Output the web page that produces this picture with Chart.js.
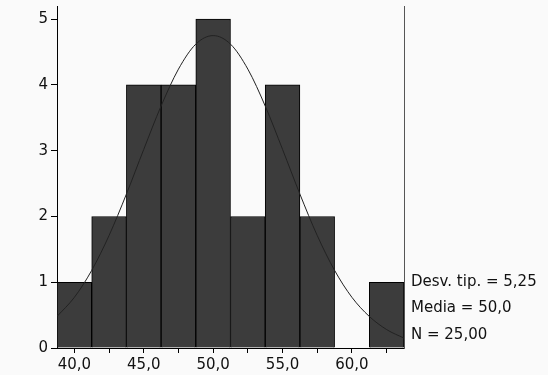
<!DOCTYPE html>
<html>
<head>
<meta charset="utf-8">
<script src="https://cdn.jsdelivr.net/npm/chart.js@4.4.1/dist/chart.umd.min.js"></script>
<style>
  html, body { margin: 0; padding: 0; background: #fafafa; }
  #wrap { width: 548px; height: 375px; }
</style>
</head>
<body>
<div id="wrap"><canvas id="histChart"></canvas></div>
<script>
// Histogram bins (centres) and counts
const binCenters = [40, 42.5, 45, 47.5, 50, 52.5, 55, 57.5, 60, 62.5];
const counts = [1, 2, 4, 4, 5, 2, 4, 2, 0, 1];

// Normal curve
const curveX = [38.75, 40, 41.25, 42.5, 43.75, 45, 46.25, 47.5, 48.75, 50, 51.25,
                52.5, 53.75, 55, 56.25, 57.5, 58.75, 60, 61.25, 62.5, 63.75];
const curveY = [0.48, 0.77, 1.18, 1.71, 2.34, 3.02, 3.68, 4.24, 4.62, 4.75, 4.62,
                4.24, 3.68, 3.02, 2.34, 1.71, 1.18, 0.77, 0.48, 0.28, 0.15];

// Axis ticks
const xTickValues = [40, 42.5, 45, 47.5, 50, 52.5, 55, 57.5, 60, 62.5];
const xTickLabels = ['40,0', '', '45,0', '', '50,0', '', '55,0', '', '60,0', ''];
const yTickValues = [0, 1, 2, 3, 4, 5];

// Summary text
const statLabels = ['Desv. tip. = 5,25', 'Media = 50,0', 'N = 25,00'];

const FONT = "'DejaVu Sans', sans-serif";

const bgPlugin = {
    id: 'bg',
    beforeDraw(chart) {
        const ctx = chart.ctx;
        ctx.save();
        ctx.fillStyle = '#fafafa';
        ctx.fillRect(0, 0, chart.width, chart.height);
        ctx.restore();
    }
};

const statsPlugin = {
    id: 'stats',
    afterDraw(chart) {
        const ctx = chart.ctx;
        const area = chart.chartArea;
        const offsets = [66, 39.5, 13];
        ctx.save();
        ctx.font = '15px ' + FONT;
        ctx.fillStyle = '#111';
        ctx.textBaseline = 'middle';
        ctx.textAlign = 'left';
        statLabels.forEach((t, i) => {
            ctx.fillText(t, area.right + 7, area.bottom - offsets[i]);
        });
        ctx.restore();
    }
};

const ctx = document.getElementById('histChart').getContext('2d');

new Chart(ctx, {
    type: 'bar',
    data: {
        datasets: [{
            type: 'bar',
            data: binCenters.map((x, i) => ({ x: x, y: counts[i] })),
            backgroundColor: '#3c3c3c',
            borderColor: '#000',
            borderWidth: 1,
            barPercentage: 1,
            categoryPercentage: 1,
            order: 2
        }, {
            type: 'line',
            data: curveX.map((x, i) => ({ x: x, y: curveY[i] })),
            borderColor: '#222',
            borderWidth: 1,
            pointRadius: 0,
            cubicInterpolationMode: 'monotone',
            fill: false,
            order: 1
        }]
    },
    options: {
        responsive: true,
        maintainAspectRatio: false,
        animation: false,
        layout: {
            padding: { top: 6, right: 144, left: 0, bottom: 0 }
        },
        plugins: {
            legend: { display: false },
            tooltip: { enabled: false }
        },
        scales: {
            x: {
                type: 'linear',
                min: 38.75,
                max: 63.75,
                offset: false,
                afterBuildTicks: (scale) => {
                    scale.ticks = xTickValues.map(v => ({ value: v }));
                },
                afterFit: (scale) => {
                    scale.height = 27;
                    scale.paddingLeft = 0;
                    scale.paddingRight = 0;
                },
                ticks: {
                    autoSkip: false,
                    maxRotation: 0,
                    padding: 3,
                    color: '#111',
                    font: { family: FONT, size: 15 },
                    callback: (v, i) => xTickLabels[i]
                },
                grid: {
                    drawOnChartArea: false,
                    offset: false,
                    tickLength: 5,
                    color: '#000'
                },
                border: { display: true, color: '#000', width: 1 }
            },
            y: {
                min: 0,
                max: 5.2,
                afterBuildTicks: (scale) => {
                    scale.ticks = yTickValues.map(v => ({ value: v }));
                },
                afterFit: (scale) => {
                    scale.width = 57;
                    scale.paddingTop = 0;
                    scale.paddingBottom = 0;
                },
                ticks: {
                    padding: 3,
                    color: '#111',
                    font: { family: FONT, size: 15 }
                },
                grid: {
                    drawOnChartArea: false,
                    tickLength: 6,
                    color: '#000'
                },
                border: { display: true, color: '#000', width: 1 }
            },
            y2: {
                position: 'right',
                min: 0,
                max: 5.2,
                ticks: { display: false },
                grid: { display: false, drawTicks: false },
                afterFit: (scale) => { scale.width = 0; },
                border: { display: true, color: '#555', width: 1 }
            }
        }
    },
    plugins: [bgPlugin, statsPlugin]
});
</script>
</body>
</html>
